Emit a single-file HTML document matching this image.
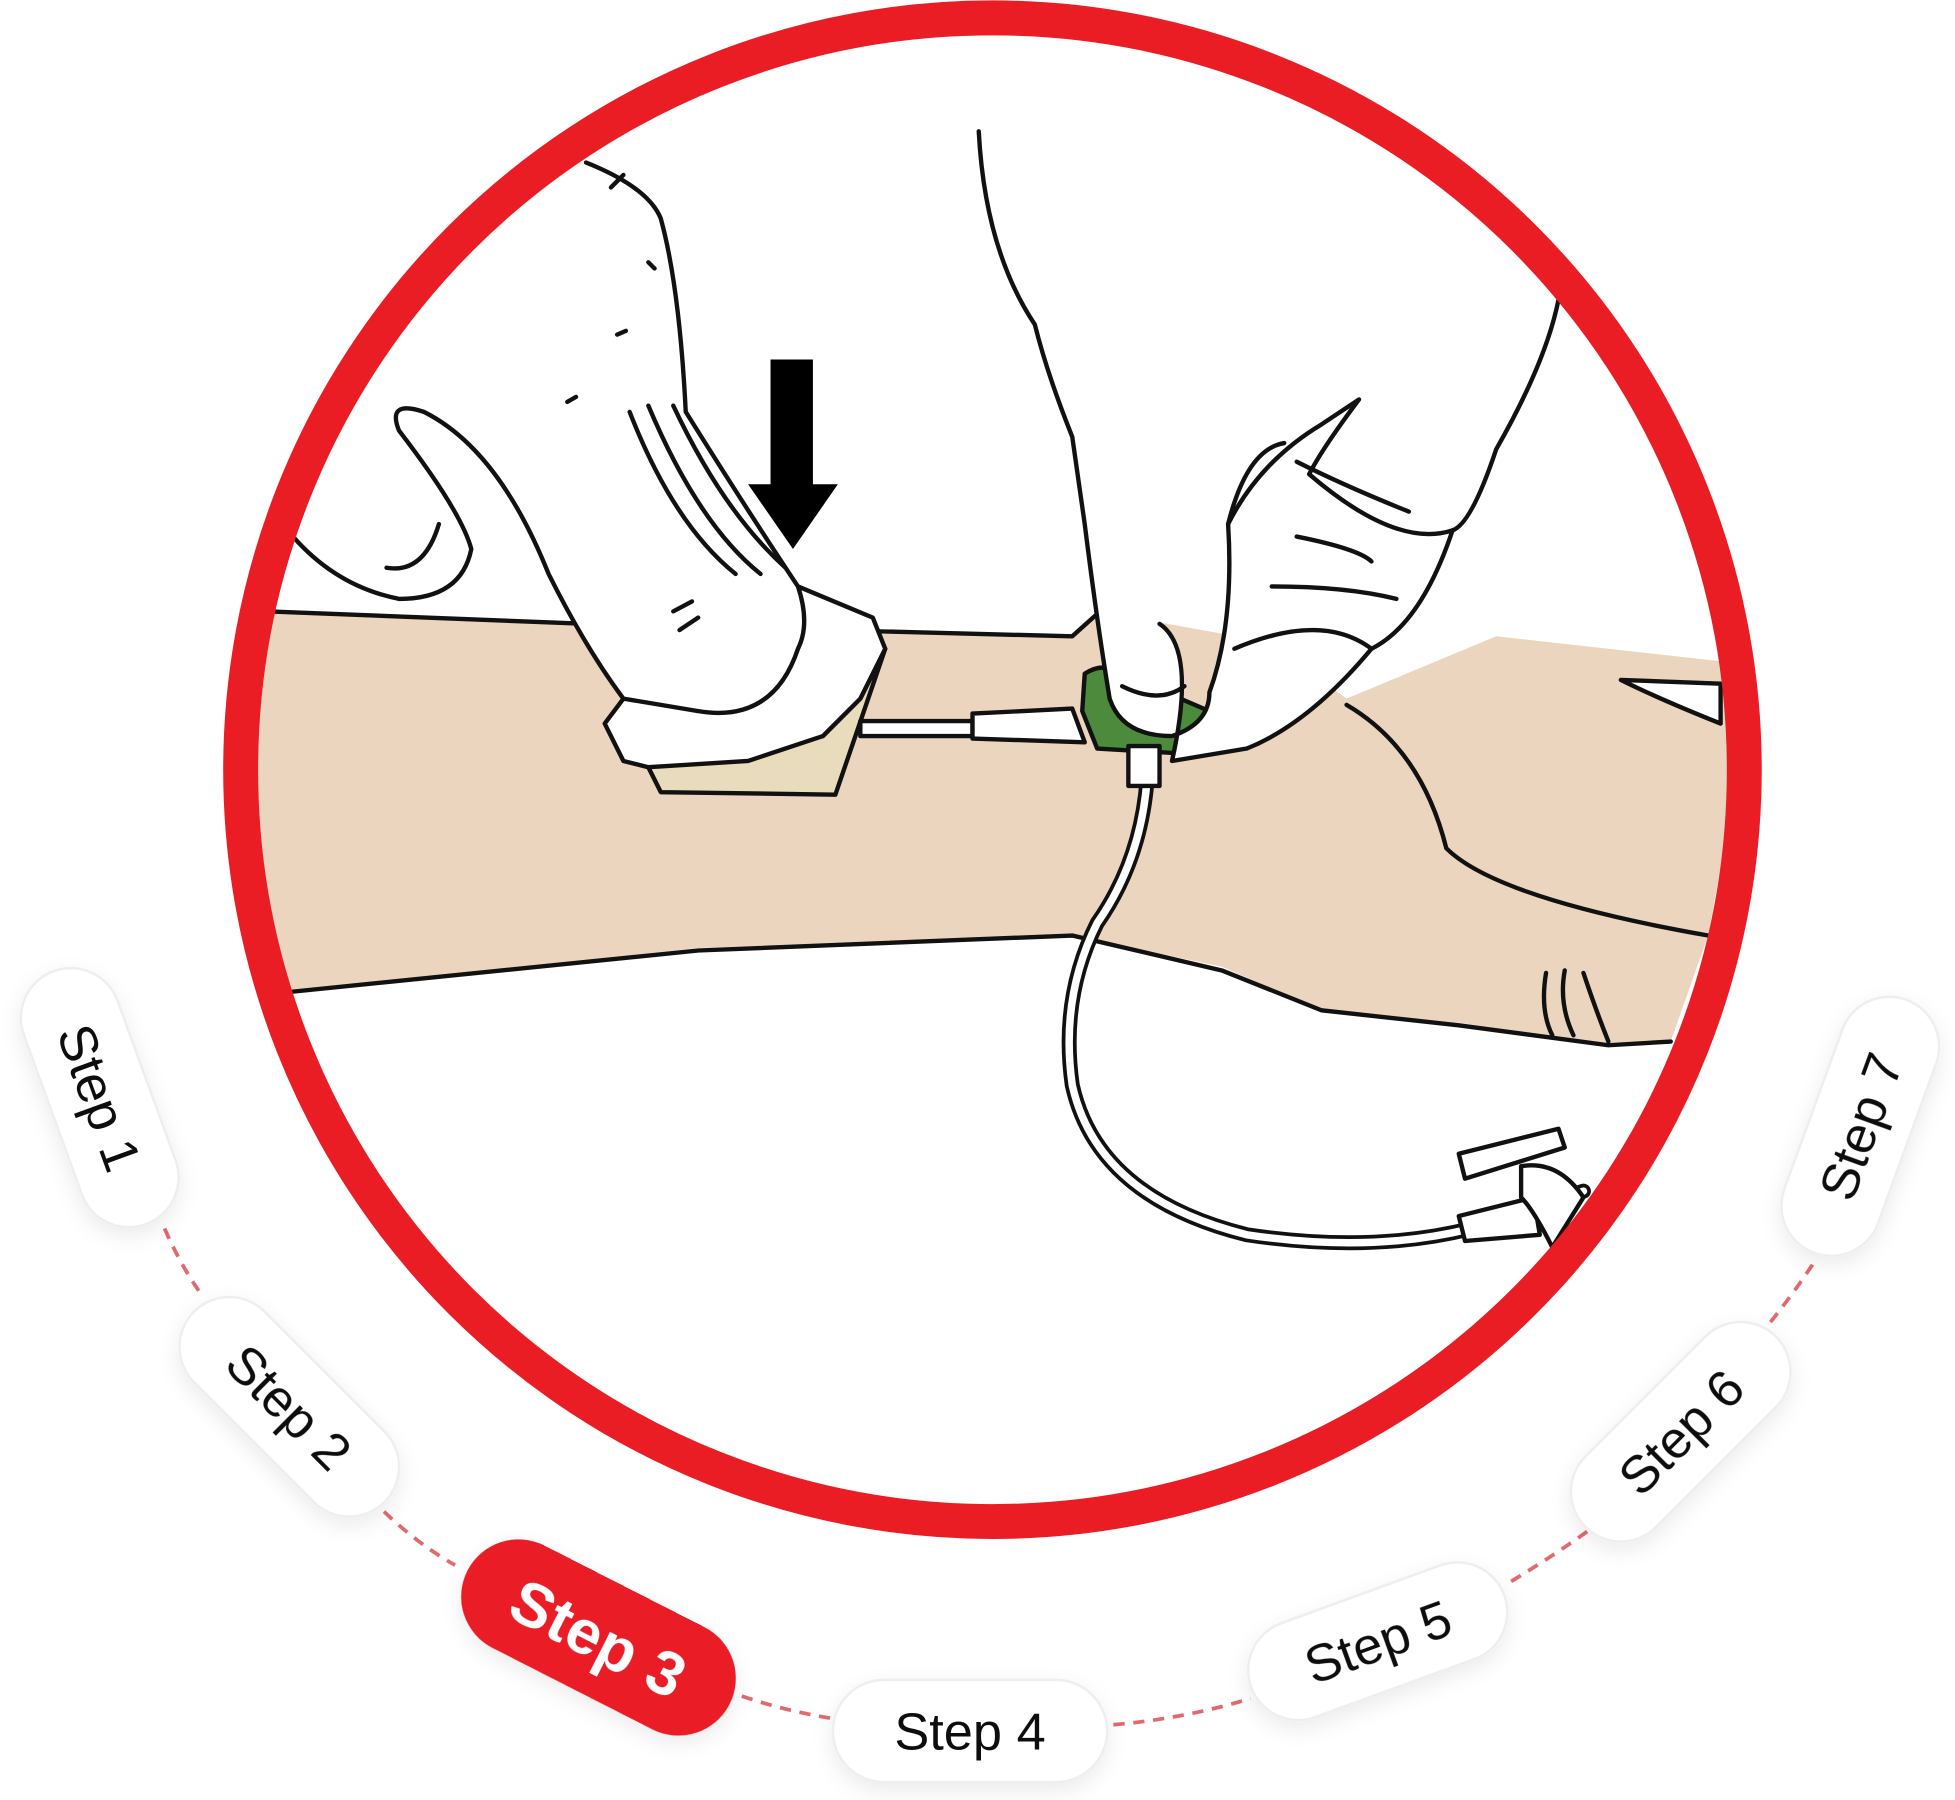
<!DOCTYPE html>
<html><head><meta charset="utf-8"><style>
html,body{margin:0;padding:0;background:#fff;}
svg{display:block;}
text{font-family:"Liberation Sans",sans-serif;}
</style></head><body>
<svg width="1955" height="1800" viewBox="0 0 1568 1443" xmlns="http://www.w3.org/2000/svg">
<defs>
<clipPath id="c"><circle cx="796" cy="617" r="590"/></clipPath>
<filter id="sh" x="-30%" y="-30%" width="160%" height="160%"><feDropShadow dx="0" dy="6" stdDeviation="8" flood-color="#000" flood-opacity="0.08"/></filter>
</defs>
<g clip-path="url(#c)" stroke="#111" stroke-width="3.5" fill="none" stroke-linejoin="round" stroke-linecap="round">
<!-- arm -->
<path d="M200 488 L470 500 L860 510 L880 490 L1020 515 L1080 560 L1200 510 L1380 530 L1390 640 L1370 750 L1340 835 L1300 838 L1170 820 L1060 810 L980 775 L860 750 L560 760 L235 795 L200 800 Z" fill="#ebd5be" stroke="none"/>
<path d="M215 490 L470 500 L860 510 L880 492"/>
<path d="M235 795 L560 762 L860 750 L980 778 L1060 810 L1170 822 L1290 838 L1340 835"/>
<path d="M1080 565 Q1140 600 1160 680 Q1200 720 1370 750"/>
<path d="M1300 545 L1380 548 L1380 580 Q1330 560 1300 545" fill="#fff"/>
<path d="M1240 780 Q1235 810 1245 830 M1255 778 Q1250 805 1262 830 M1270 780 Q1280 810 1290 835"/>
<!-- gauze -->
<path d="M520 615 L530 635 L670 637 L710 520 L690 560 L660 590 Z" fill="#e9dcbd"/>
<path d="M485 580 L500 560 L640 470 L700 495 L710 520 L690 560 L660 590 L600 610 L520 615 L500 610 Z" fill="#fff"/>
<!-- left hand -->
<path d="M470 130 Q520 150 530 175 Q545 230 550 330 Q600 410 640 470 Q650 500 640 520 Q620 580 560 570 L500 560 Q470 520 440 460 Q400 360 340 330 Q310 320 320 345 Q370 410 378 440 Q370 480 320 480 Q270 470 235 430" fill="#fff"/>
<path d="M505 330 Q540 420 590 460 M520 325 Q560 420 610 460 M540 325 Q580 410 630 455"/>
<path d="M310 455 Q340 460 352 420 M540 490 L555 482 M545 505 L560 495 M490 150 L500 140 M520 210 L525 215 M495 268 L502 265 M455 322 L462 318"/>
<!-- catheter -->
<path d="M690 578 L780 578 L780 590 L690 590 Z" fill="#fff"/>
<path d="M780 572 L860 568 L870 595 L780 592 Z" fill="#fff"/>
<path d="M870 540 Q885 530 900 540 L970 570 L965 605 L880 600 L868 570 Z" fill="#4c8a3c"/>
<!-- right hand -->
<path d="M785 105 Q790 200 830 260 Q840 300 860 350 L870 420 Q880 500 890 560 Q900 590 940 590 Q970 580 970 555 Q990 500 985 420 Q1010 370 1060 340 L1090 320 Q1060 360 1050 380 Q1120 440 1165 425 Q1140 500 1100 520 Q1050 580 1000 600 L940 610 Q960 520 930 500" fill="#fff"/>
<path d="M1250 240 Q1240 290 1200 360 Q1180 420 1165 425 M985 420 Q1000 360 1030 355 M1040 370 Q1080 390 1130 410 M1020 470 Q1080 470 1120 480 M990 520 Q1060 490 1100 520 M1040 430 Q1090 440 1100 450 M900 550 Q930 565 950 550"/>
<!-- tube -->
<path d="M920 625 Q915 690 880 740 Q850 800 860 870 Q880 960 1000 990 Q1100 1005 1180 985 L1270 955" stroke-width="12"/>
<path d="M920 625 Q915 690 880 740 Q850 800 860 870 Q880 960 1000 990 Q1100 1005 1180 985 L1270 955" stroke="#fff" stroke-width="6"/>
<path d="M905 598 L930 598 L930 630 L905 630 Z" fill="#fff"/>
<path d="M1170 925 L1250 905 L1255 920 L1175 945 Z" fill="#fff"/>
<path d="M1170 975 L1230 960 L1235 990 L1175 995 Z" fill="#fff"/>
<path d="M1220 935 Q1250 930 1270 960 L1245 1000 Q1230 970 1220 960 Z" fill="#fff"/>
<!-- arrow -->
<path d="M618 288 L652 288 L652 388 L672 388 L636 440 L600 388 L618 388 Z" fill="#000" stroke="none"/>
</g>
<circle cx="796" cy="617" r="603" fill="none" stroke="#ea1d25" stroke-width="28"/>
<!-- connectors -->
<g stroke="#e06a6e" stroke-width="3" stroke-dasharray="9 7" fill="none">
<path d="M132 985 Q145 1015 163 1040"/>
<path d="M308 1212 Q335 1238 365 1255"/>
<path d="M595 1360 Q630 1372 668 1378"/>
<path d="M893 1383 Q950 1378 1003 1362"/>
<path d="M1212 1268 Q1245 1248 1273 1228"/>
<path d="M1420 1060 Q1440 1035 1455 1012"/>
</g>
<g filter="url(#sh)" font-size="42">
<g transform="translate(80,880) rotate(70)"><rect x="-108" y="-40" width="216" height="80" rx="40" fill="#fff" stroke="#eee" stroke-width="2"/><text x="0" y="15" text-anchor="middle" fill="#111">Step 1</text></g>
<g transform="translate(232,1128) rotate(45)"><rect x="-108" y="-40" width="216" height="80" rx="40" fill="#fff" stroke="#eee" stroke-width="2"/><text x="0" y="15" text-anchor="middle" fill="#111">Step 2</text></g>
<g transform="translate(480,1313) rotate(27)"><rect x="-118" y="-46" width="236" height="92" rx="46" fill="#ea1d25"/><text x="0" y="18" text-anchor="middle" fill="#fff" font-weight="bold" font-size="50">Step 3</text></g>
<g transform="translate(778,1388)"><rect x="-110" y="-41" width="220" height="82" rx="41" fill="#fff" stroke="#eee" stroke-width="2"/><text x="0" y="15" text-anchor="middle" fill="#111">Step 4</text></g>
<g transform="translate(1105,1316) rotate(-20)"><rect x="-108" y="-40" width="216" height="80" rx="40" fill="#fff" stroke="#eee" stroke-width="2"/><text x="0" y="15" text-anchor="middle" fill="#111">Step 5</text></g>
<g transform="translate(1348,1148) rotate(-45)"><rect x="-108" y="-40" width="216" height="80" rx="40" fill="#fff" stroke="#eee" stroke-width="2"/><text x="0" y="15" text-anchor="middle" fill="#111">Step 6</text></g>
<g transform="translate(1492,903) rotate(-70)"><rect x="-108" y="-40" width="216" height="80" rx="40" fill="#fff" stroke="#eee" stroke-width="2"/><text x="0" y="15" text-anchor="middle" fill="#111">Step 7</text></g>
</g>
</svg>
</body></html>
